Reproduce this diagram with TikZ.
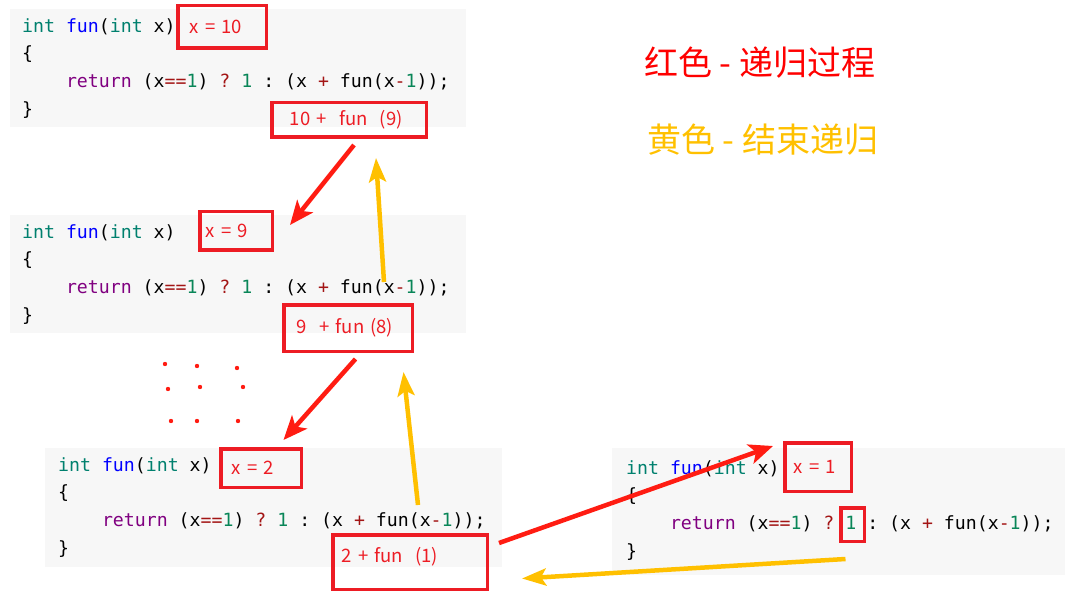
\documentclass[tikz,border=0pt]{standalone}
\usepackage{fontspec}
\usepackage{xcolor}
\usepackage{tikz}
\usetikzlibrary{arrows.meta, positioning, calc}
\setmonofont{DejaVu Sans Mono}
\newfontfamily\cjk{Noto Sans CJK SC}
\definecolor{boxred}{RGB}{237, 28, 36}
\definecolor{arrred}{RGB}{255, 28, 18}
\definecolor{arryel}{RGB}{255, 192, 0}
\definecolor{codebg}{RGB}{247, 247, 247}
\definecolor{kwint}{RGB}{0, 128, 110}
\definecolor{fnblue}{RGB}{0, 0, 255}
\definecolor{kwret}{RGB}{128, 0, 128}
\definecolor{numgr}{RGB}{9, 134, 88}
\definecolor{opred}{RGB}{163, 21, 21}
\newcommand{\funcode}{%
{\color{kwint}int} {\color{fnblue}fun}({\color{kwint}int} x)\\
\{\\
\phantom{0000}{\color{kwret}return} (x{\color{opred}==}{\color{numgr}1}) {\color{opred}?} {\color{numgr}1} : (x {\color{opred}+} fun(x{\color{opred}-}{\color{numgr}1}));\\
\}}

\begin{document}
\begin{tikzpicture}[x=1pt, y=-1pt,
  bg/.style={rectangle, fill=codebg, draw=none, anchor=north west, inner sep=0pt},
  code/.style={anchor=north west, inner sep=0pt, align=left,
    font=\ttfamily\fontsize{18.2pt}{27.8pt}\selectfont},
  argbox/.style={rectangle, draw=boxred, line width=3.5pt, text=boxred,
    font=\cjk\fontsize{18.5pt}{20pt}\selectfont, align=left, inner ysep=0pt},
  legend/.style={anchor=west, inner sep=0pt, font=\cjk\fontsize{34pt}{36pt}\selectfont},
  rarr/.style={-{Stealth[length=24pt, width=20pt, inset=6pt]}, line width=4.5pt, color=arrred},
  yarr/.style={-{Stealth[length=24pt, width=17pt, inset=5pt]}, line width=4.5pt, color=arryel}
]
\useasboundingbox (0,0) rectangle (1089,612);
% code blocks
\node[bg, minimum width=456pt, minimum height=118pt] (bgA) at (10,9) {};
\node[code] (codeA) at (22,18) {\funcode};
\node[bg, minimum width=456pt, minimum height=118pt] (bgB) at (10,215) {};
\node[code] (codeB) at (22,224) {\funcode};
\node[bg, minimum width=457pt, minimum height=119pt] (bgC) at (45,448) {};
\node[code] (codeC) at (58,457) {\funcode};
\node[bg, minimum width=453pt, minimum height=127pt] (bgD) at (612,448) {};
\node[code] (codeD) at (626,460) {\funcode};
% red boxes
\node[argbox, text width=64.5pt, inner xsep=12pt, minimum height=42.5pt]
  at (222,27) (argA) {x = 10};
\node[argbox, text width=118.5pt, inner xsep=18pt, minimum height=34.5pt]
  at (349,120) (sumA) {10 +\ \ fun\ \ (9)};
\node[argbox, text width=60.5pt, inner xsep=6pt, minimum height=38.5pt]
  at (236,231) (argB) {x = 9};
\node[argbox, text width=102.5pt, inner xsep=13pt, minimum height=46.5pt]
  at (348,328) (sumB) {9\ \ + fun\ (8)};
\node[argbox, text width=58.5pt, inner xsep=11pt, minimum height=38.5pt]
  at (261,468) (argC) {x = 2};
\node[argbox, text width=136.5pt, inner xsep=9pt, minimum height=54.5pt,
  text depth=14pt]
  at (410,562) (sumC) {2 + fun\ \ (1)};
\node[argbox, text width=48.5pt, inner xsep=9pt, minimum height=48.5pt]
  at (818,467) (argD) {x = 1};
\node[argbox, minimum width=23.5pt, minimum height=33.5pt]
  at (852.5,524.5) (oneD) {};
% legend
\node[legend, text=red] at (644,63) (lgRed) {红色 - 递归过程};
\node[legend, text=arryel] at (647,140) (lgYel) {黄色 - 结束递归};
% dots
\foreach \p in {(165,364), (197,366), (237,368), (168,389), (200,387),
                (243,387), (171,421), (197,421), (238,421)}
  \fill[arrred] \p circle (2.2pt);
% call arrows
\coordinate (retB) at (384,282);
\coordinate (retC) at (418,505);
\draw[rarr] ([shift={(5,6)}]sumA.south) -- ([shift={(16,-6)}]argB.east);
\draw[yarr] (retB) -- ([shift={(27,19)}]sumA.south);
\draw[rarr] ([shift={(7.5,6)}]sumB.south) -- ([shift={(22.5,-7)}]argC.north);
\draw[yarr] (retC) -- ([shift={(55.5,19)}]sumB.south);
\draw[rarr] ([shift={(10,10)}]sumC.north east) -- ([shift={(-10,-21)}]argD.west);
\draw[yarr] ([shift={(-7,16)}]oneD.south) -- ([shift={(33,16.5)}]sumC.east);
\end{tikzpicture}
\end{document}
